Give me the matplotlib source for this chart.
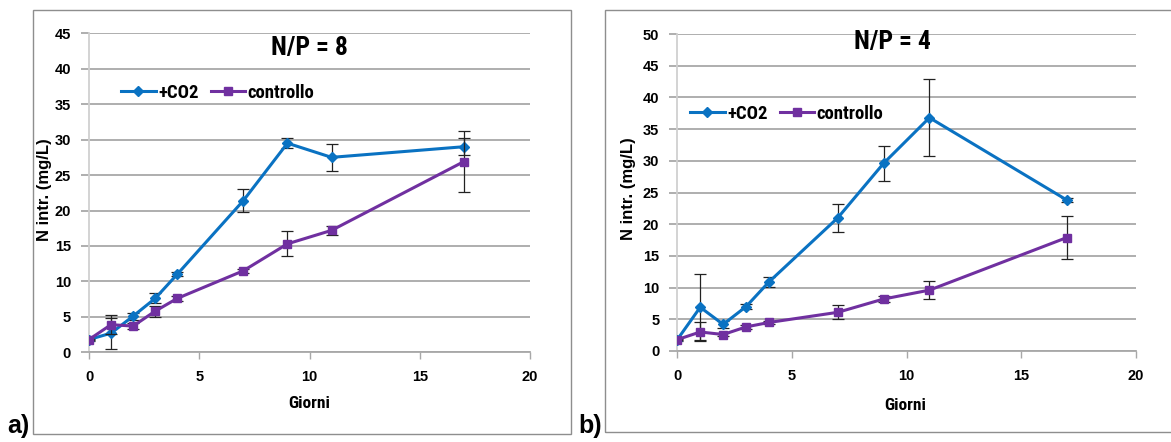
import matplotlib
matplotlib.use("Agg")
import matplotlib.pyplot as plt
from matplotlib import font_manager
from matplotlib.patches import Rectangle

# ---- data -------------------------------------------------------------
giorni = [0, 1, 2, 3, 4, 7, 9, 11, 17]

# N/P = 8
co2_a = [1.8, 2.7, 5.1, 7.6, 11.0, 21.4, 29.5, 27.5, 29.0]
co2_a_err = [0.2, 2.2, 0.5, 0.7, 0.3, 1.65, 0.7, 1.9, 1.2]
ctrl_a = [1.8, 3.9, 3.7, 5.8, 7.6, 11.5, 15.3, 17.2, 26.9]
ctrl_a_err = [0.1, 1.3, 0.4, 0.8, 0.3, 0.3, 1.75, 0.65, 4.3]

# N/P = 4
co2_b = [1.8, 6.9, 4.2, 7.0, 10.9, 21.0, 29.6, 36.8, 23.8]
co2_b_err = [0.2, 5.2, 0.5, 0.4, 0.8, 2.2, 2.75, 6.05, 0.3]
ctrl_b = [1.8, 3.0, 2.6, 3.8, 4.5, 6.1, 8.2, 9.6, 17.9]
ctrl_b_err = [0.1, 1.5, 0.3, 0.3, 0.3, 1.1, 0.4, 1.45, 3.4]

series_names = ["+CO2", "controllo"]
titles = ["N/P = 8", "N/P = 4"]
panel_tags = ["a)", "b)"]
xlabel = "Giorni"
ylabel = "N intr. (mg/L)"
x_ticks = [0, 5, 10, 15, 20]
y_ticks_a = list(range(0, 50, 5))
y_ticks_b = list(range(0, 55, 5))

# ---- fonts ------------------------------------------------------------
installed = {f.name for f in font_manager.fontManager.ttflist}


def pick(*names):
    for n in names:
        if n in installed:
            return n
    return "DejaVu Sans"


NARROW = pick("Liberation Sans Narrow", "Roboto Condensed", "Liberation Sans")
SANS = pick("Liberation Sans", "DejaVu Sans")
TICKF = pick("Liberation Sans", "DejaVu Sans")

BLUE = "#0a72c2"
PURPLE = "#7030a0"
GRID = "#a8a8a8"

W, H = 1171, 442
fig = plt.figure(figsize=(W / 100, H / 100), dpi=100)


def fx(px):
    return px / W


def fy(py):
    return 1 - py / H


def panel(box, axrect, ymax, yticks, co2, co2e, ctrl, ctrle,
          title_xy, legend_xy, xlabel_xy, ylabel_xy, tag_xy):
    # outer frame of the panel
    x0, y0, x1, y1 = box
    fig.patches.append(Rectangle((fx(x0), fy(y1)), fx(x1 - x0), (y1 - y0) / H,
                                 transform=fig.transFigure, fill=False,
                                 edgecolor="#8e8e8e", linewidth=1.0))
    l, t, r, b = axrect
    ax = fig.add_axes([fx(l), fy(b), fx(r - l), (b - t) / H])
    ax.set_xlim(0, 20)
    ax.set_ylim(0, ymax)
    ax.set_xticks(x_ticks)
    ax.set_yticks(yticks)
    ax.yaxis.grid(True, color=GRID, linewidth=1.3)
    ax.set_axisbelow(True)
    for s in ("top", "right"):
        ax.spines[s].set_visible(False)
    ax.spines["left"].set_color("#d0d0d0")
    ax.spines["left"].set_linewidth(1.3)
    ax.spines["bottom"].set_color(GRID)
    ax.spines["bottom"].set_linewidth(1.3)
    ax.tick_params(axis="x", length=5, width=1.0, color=GRID, pad=8)
    ax.tick_params(axis="y", length=6, width=1.3, color=GRID, pad=7)
    for lab in ax.get_xticklabels() + ax.get_yticklabels():
        lab.set_fontfamily(TICKF)
        lab.set_fontweight("bold")
        lab.set_fontsize(10.5)

    # error bars sit under each series' line and markers
    ax.errorbar(giorni, co2, yerr=co2e, fmt="none", ecolor="#222222",
                elinewidth=0.9, capsize=4, capthick=0.9, zorder=3)
    ax.plot(giorni, co2, color=BLUE, linewidth=2.2, marker="D",
            markersize=5, markeredgecolor=BLUE, label=series_names[0], zorder=4)
    ax.errorbar(giorni, ctrl, yerr=ctrle, fmt="none", ecolor="#222222",
                elinewidth=0.9, capsize=4, capthick=0.9, zorder=5)
    ax.plot(giorni, ctrl, color=PURPLE, linewidth=2.2, marker="s",
            markersize=5.8, markeredgecolor=PURPLE, label=series_names[1],
            zorder=6)

    h, lbl = ax.get_legend_handles_labels()
    fig.legend(h[:2], lbl[:2], loc="center left",
               bbox_to_anchor=(fx(legend_xy[0]), fy(legend_xy[1])),
               ncol=2, frameon=False, handlelength=1.85,
               handletextpad=0.12, columnspacing=0.65, borderpad=0,
               borderaxespad=0,
               prop={"family": NARROW, "weight": "bold", "size": 13.5})

    fig.text(fx(title_xy[0]), fy(title_xy[1]), title_xy[2], ha="center",
             va="center", fontsize=18.5, fontweight="bold", family=NARROW)
    fig.text(fx(xlabel_xy[0]), fy(xlabel_xy[1]), xlabel, ha="center",
             va="center", fontsize=12.5, fontweight="bold", family=NARROW)
    fig.text(fx(ylabel_xy[0]), fy(ylabel_xy[1]), ylabel, ha="center",
             va="center", rotation=90, fontsize=12, fontweight="bold",
             family=SANS)
    fig.text(fx(tag_xy[0]), fy(tag_xy[1]), tag_xy[2], ha="left",
             va="baseline", fontsize=18, fontweight="bold", family=SANS)
    return ax


panel((33, 9.5, 571, 434), (89, 33.3, 530, 352.3), 45, y_ticks_a,
      co2_a, co2_a_err, ctrl_a, ctrl_a_err,
      (309, 48.5, titles[0]), (121, 93), (309, 403), (45, 190),
      (7, 433, panel_tags[0]))
panel((605, 10, 1180, 432), (677.3, 34, 1135.7, 351), 50, y_ticks_b,
      co2_b, co2_b_err, ctrl_b, ctrl_b_err,
      (892, 42, titles[1]), (690, 114), (905, 405), (629, 189),
      (578, 433, panel_tags[1]))

fig.savefig("out.png", dpi=100, facecolor="white")
